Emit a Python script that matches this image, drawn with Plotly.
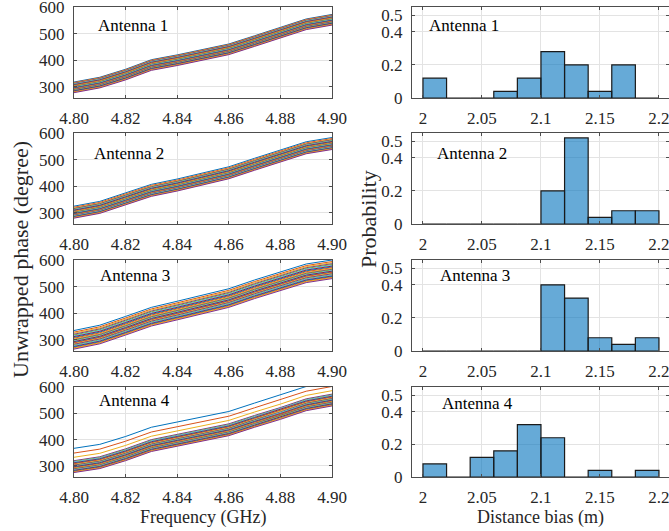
import plotly.graph_objects as go

# ---------------- data ----------------
freq = [4.80, 4.81, 4.82, 4.83, 4.84, 4.85, 4.86, 4.87, 4.88, 4.89, 4.90]

# lowest curve of each antenna bundle (degree)
base_a1 = [278, 296, 326, 362, 380, 400, 421, 452, 483, 515, 532]
base_a2 = [280, 298, 330, 362, 382, 405, 428, 460, 490, 522, 538]
base_a3 = [265, 285, 318, 352, 375, 398, 422, 455, 485, 515, 530]
base_a4 = [275, 290, 320, 355, 375, 395, 415, 447, 477, 510, 528]

# offsets of the 25 measurement curves above the lowest one (degree)
off_a1 = [40, 38, 36, 35, 33, 32, 30, 28, 27, 25, 23, 22, 20, 18, 17, 15, 13, 12, 10, 8, 7, 5, 3, 2, 0]
off_a2 = [45, 41, 38, 36, 34, 32, 30, 28, 26, 24, 22, 21, 19, 17, 16, 14, 12, 11, 9, 8, 6, 5, 3, 2, 0]
off_a3 = [70, 64, 60, 56, 53, 50, 47, 44, 41, 38, 35, 33, 30, 28, 25, 23, 20, 18, 15, 13, 10, 8, 5, 3, 0]
off_a4 = [92, 74, 58, 45, 42, 40, 37, 35, 33, 30, 28, 26, 24, 22, 20, 18, 16, 14, 12, 10, 8, 6, 4, 2, 0]

bin_edges = [2.00, 2.02, 2.04, 2.06, 2.08, 2.10, 2.12, 2.14, 2.16, 2.18, 2.20]
prob_a1 = [0.12, 0.00, 0.00, 0.04, 0.12, 0.28, 0.20, 0.04, 0.20, 0.00]
prob_a2 = [0.00, 0.00, 0.00, 0.00, 0.00, 0.20, 0.52, 0.04, 0.08, 0.08]
prob_a3 = [0.00, 0.00, 0.00, 0.00, 0.00, 0.40, 0.32, 0.08, 0.04, 0.08]
prob_a4 = [0.08, 0.00, 0.12, 0.16, 0.32, 0.24, 0.00, 0.04, 0.00, 0.04]

labels = ["Antenna 1", "Antenna 2", "Antenna 3", "Antenna 4"]
freq_ticks = [4.80, 4.82, 4.84, 4.86, 4.88, 4.90]
freq_ticktext = ["4.80", "4.82", "4.84", "4.86", "4.88", "4.90"]
phase_ticks = [300, 400, 500, 600]
bias_ticks = [2.0, 2.05, 2.1, 2.15, 2.2]
bias_ticktext = ["2", "2.05", "2.1", "2.15", "2.2"]
prob_ticks = [0, 0.2, 0.4, 0.5]
prob_ticktext = ["0", "0.2", "0.4", "0.5"]

bases = [base_a1, base_a2, base_a3, base_a4]
offsets = [off_a1, off_a2, off_a3, off_a4]
probs = [prob_a1, prob_a2, prob_a3, prob_a4]

# ---------------- style ----------------
W, H = 669, 531
matlab_colors = ["#0072BD", "#D95319", "#EDB120", "#7E2F8E", "#77AC30", "#4DBEEE", "#A2142F"]
FONT = "Liberation Serif"
TXT = "#262626"

rows_px = [(7, 98), (133, 224), (260, 351), (387, 477)]
left_px = (74, 332)
right_px = (412, 669)

def px_x(a, b):
    return [a / W, b / W]

def px_y(t, b):
    return [1 - b / H, 1 - t / H]

fig = go.Figure()
layout = dict(
    template="none",
    width=W, height=H,
    margin=dict(l=0, r=0, t=0, b=0, pad=0),
    paper_bgcolor="white", plot_bgcolor="white",
    showlegend=False,
    font=dict(family=FONT, color=TXT, size=17),
)

axis_common = dict(
    automargin=False,
    showline=True, linecolor="#4d4d4d", linewidth=1, mirror="ticks",
    ticks="inside", ticklen=3, tickcolor="#4d4d4d",
    showgrid=True, gridcolor="#e3e3e3", gridwidth=1,
    zeroline=False, tickfont=dict(family=FONT, size=17, color=TXT),
    ticklabeloverflow="allow",
)

annotations = []
for i in range(4):
    lx = 2 * i + 1
    rx = 2 * i + 2
    t, b = rows_px[i]
    for k, off in enumerate(offsets[i]):
        fig.add_trace(go.Scatter(
            x=freq, y=[v + off for v in bases[i]], mode="lines",
            line=dict(color=matlab_colors[k % 7], width=1),
            xaxis=f"x{lx}", yaxis=f"y{lx}", hoverinfo="skip",
        ))
    centers = [(bin_edges[j] + bin_edges[j + 1]) / 2 for j in range(len(probs[i]))]
    widths = [bin_edges[j + 1] - bin_edges[j] for j in range(len(probs[i]))]
    fig.add_trace(go.Bar(
        x=centers, y=probs[i], width=widths,
        marker=dict(color="rgba(0,114,189,0.6)", line=dict(color="#1a1a1a", width=1.2)),
        xaxis=f"x{rx}", yaxis=f"y{rx}", hoverinfo="skip",
    ))

    layout[f"xaxis{lx}"] = dict(axis_common, domain=px_x(*left_px), anchor=f"y{lx}",
                                range=[4.80, 4.90], tickvals=freq_ticks, ticktext=freq_ticktext,
                                ticklabelstandoff=5)
    layout[f"yaxis{lx}"] = dict(axis_common, domain=px_y(t, b), anchor=f"x{lx}",
                                range=[258, 600], tickvals=phase_ticks, ticklabelstandoff=5)
    layout[f"xaxis{rx}"] = dict(axis_common, domain=px_x(*right_px), anchor=f"y{rx}",
                                range=[1.9907, 2.2085], tickvals=bias_ticks, ticktext=bias_ticktext,
                                ticklabelstandoff=5)
    layout[f"yaxis{rx}"] = dict(axis_common, domain=px_y(t, b), anchor=f"x{rx}",
                                range=[0, 0.55], tickvals=prob_ticks, ticktext=prob_ticktext,
                                ticklabelstandoff=5)

left_lab_px = [(96, 26), (92, 153), (98, 275), (97, 400)]
right_lab_px = [(427, 26), (435, 153), (438, 275), (440, 403)]
for i in range(4):
    for (xp, yp) in (left_lab_px[i], right_lab_px[i]):
        annotations.append(dict(
            text=labels[i], x=xp / W, y=1 - yp / H, xref="paper", yref="paper",
            xanchor="left", yanchor="middle", showarrow=False,
            font=dict(family=FONT, size=17, color="black"),
        ))

annotations.append(dict(text="Frequency (GHz)", x=203 / W, y=1 - 517 / H, xref="paper", yref="paper",
                        xanchor="center", yanchor="middle", showarrow=False,
                        font=dict(family=FONT, size=18, color=TXT)))
annotations.append(dict(text="Distance bias (m)", x=540 / W, y=1 - 517 / H, xref="paper", yref="paper",
                        xanchor="center", yanchor="middle", showarrow=False,
                        font=dict(family=FONT, size=18, color=TXT)))
annotations.append(dict(text="Unwrapped phase (degree)", x=20 / W, y=1 - 260 / H, xref="paper", yref="paper",
                        xanchor="center", yanchor="middle", showarrow=False, textangle=-90,
                        font=dict(family=FONT, size=22, color=TXT)))
annotations.append(dict(text="Probability", x=368 / W, y=1 - 219 / H, xref="paper", yref="paper",
                        xanchor="center", yanchor="middle", showarrow=False, textangle=-90,
                        font=dict(family=FONT, size=22, color=TXT)))
layout["annotations"] = annotations

fig.update_layout(**layout)
fig.write_html(
    "out.html",
    config={"displayModeBar": False},
    post_script="document.body.style.margin='0';document.body.style.padding='0';"
                "document.body.style.overflow='hidden';",
)
